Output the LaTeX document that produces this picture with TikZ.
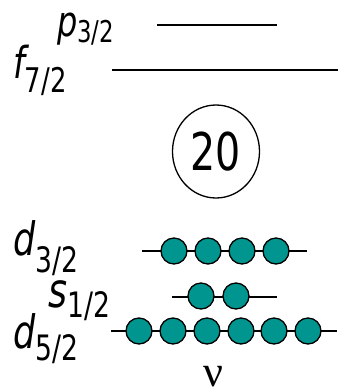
\documentclass[tikz,border=0pt]{standalone}
\usepackage{fontspec}
\setmainfont{DejaVu Sans}[FakeStretch=0.76]
\newfontfamily\nufont{Liberation Serif}
\usetikzlibrary{shapes.geometric}
\definecolor{electron}{RGB}{0,150,143}
\newcommand\shlab[5]{{\fontsize{#3}{#3}\selectfont\itshape #1}{\fontsize{#4}{#4}\selectfont\raisebox{-#5pt}{#2}}}
\tikzset{
  level/.style={line width=1.5pt, black},
  elec/.style={circle, draw=black, line width=1.3pt, fill=electron, minimum size=26pt, inner sep=0pt},
  lab/.style={anchor=base west, inner sep=0pt},
  core/.style={ellipse, draw=black, line width=1.3pt, minimum width=87pt, minimum height=93pt, inner sep=0pt}
}
\begin{document}
\begin{tikzpicture}[x=1pt,y=-1pt]
\useasboundingbox (0,0) rectangle (340,392);
% labels
\node[lab] (lp) at (57,36) {\shlab{p}{3/2}{42}{30}{6}};
\node[lab] (lf) at (13,78) {\shlab{f}{7/2}{44}{34}{14}};
\node[lab] (ld3) at (13,255) {\shlab{d}{3/2}{46}{35}{17}};
\node[lab] (ls) at (48,307) {\shlab{s}{1/2}{48}{35}{10}};
\node[lab] (ld5) at (13,348) {\shlab{d}{5/2}{46}{35}{12}};
\node[lab] (nu) at (203,386) {\nufont\fontsize{44}{44}\selectfont ν};
% empty levels
\coordinate (p1) at (157,25); \coordinate (p2) at (277,25);
\coordinate (f1) at (112,70); \coordinate (f2) at (338,70);
\draw[level] (p1) -- (p2);
\draw[level] (f1) -- (f2);
% core
\node[core] (core) at (216,151.5) {\fontsize{52}{52}\selectfont 20};
% d3/2
\coordinate (a1) at (142,251); \coordinate (a2) at (307,251);
\draw[level] (a1) -- (a2);
\foreach \x [count=\i] in {174,208,242,276} \node[elec] (da\i) at (\x,251) {};
% s1/2
\coordinate (b1) at (172,297); \coordinate (b2) at (277,297);
\draw[level] (b1) -- (b2);
\foreach \x [count=\i] in {201,236} \node[elec] (sb\i) at (\x,296) {};
% d5/2
\coordinate (c1) at (111,331); \coordinate (c2) at (337,331);
\draw[level] (c1) -- (c2);
\foreach \x [count=\i] in {139,173,207,241,274,308} \node[elec] (dc\i) at (\x,331) {};
\end{tikzpicture}
\end{document}
